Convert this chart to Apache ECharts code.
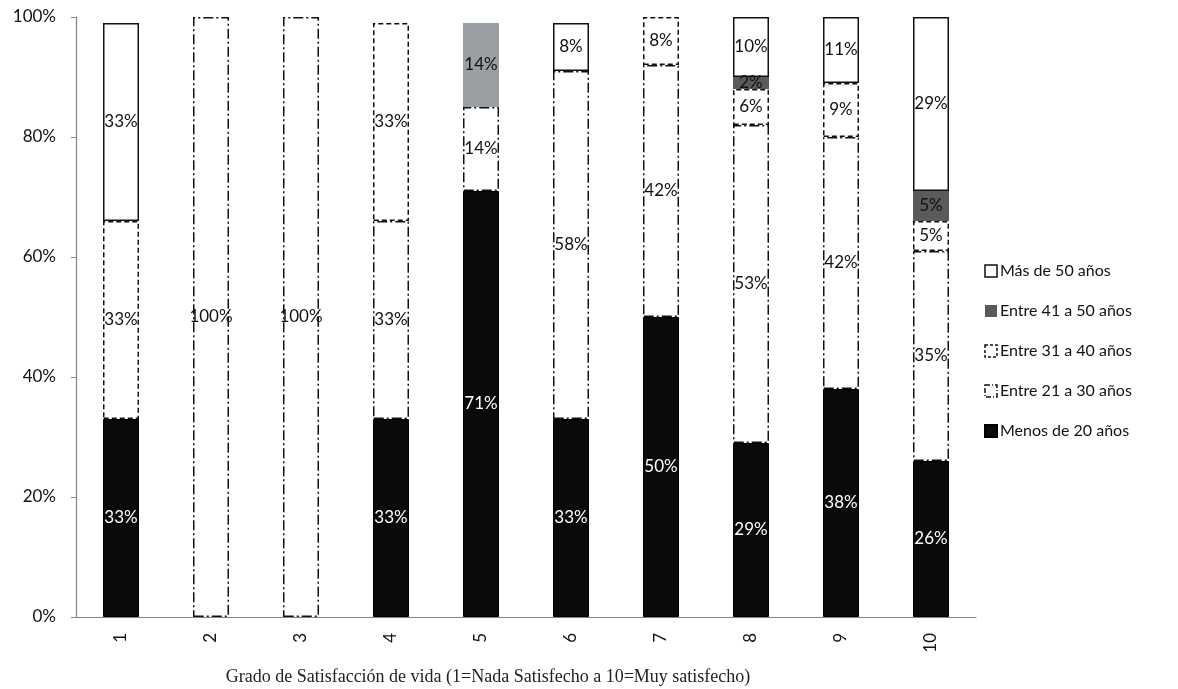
<!DOCTYPE html>
<html>
<head>
<meta charset="utf-8">
<script src="https://cdn.jsdelivr.net/npm/echarts@6/dist/echarts.min.js"></script>
<style>
  html, body { margin: 0; padding: 0; background: #fff; }
  #chart { width: 1178px; height: 689px; }
</style>
</head>
<body>
<div id="chart"></div>
<script>
// Satisfaction level categories (1 = Nada satisfecho, 10 = Muy satisfecho)
const categories = ['1', '2', '3', '4', '5', '6', '7', '8', '9', '10'];

// Percentage of respondents per age group in each satisfaction level
const menos20 = [33, null, null, 33, 71, 33, 50, 29, 38, 26];
const entre21a30 = [null, 100, 100, 33, 14, 58, 42, 53, 42, 35];
const entre31a40 = [33, null, null, 33, null, null, 8, 6, 9, 5];
const entre41a50 = [null, null, null, null, 14, null, null, 2, null, 5];
const mas50 = [33, null, null, null, null, 8, null, 10, 11, 29];

const yTicks = [0, 20, 40, 60, 80, 100];

const labelFont = 'Lato, "Noto Sans", sans-serif';

// Outline styles for each age group
const dashDot = [10, 3, 2, 3];
const dashed = [5, 3];

function pctLabel(color) {
  return {
    show: true,
    position: 'inside',
    color: color,
    fontFamily: labelFont,
    fontSize: 17,
    formatter: p => (p.value == null || p.value === 0) ? '' : p.value + '%'
  };
}

function series(name, data, itemStyle, labelColor) {
  return {
    name: name,
    type: 'bar',
    stack: 'total',
    barWidth: 36,
    data: data,
    itemStyle: itemStyle,
    label: pctLabel(labelColor),
    emphasis: { disabled: true }
  };
}

// The 41-50 segment in level 5 is printed in a lighter grey
const grey41a50 = entre41a50.map((v, i) =>
  v == null ? null : (i === 4 ? { value: v, itemStyle: { color: '#9b9ea2' } } : v)
);

const chart = echarts.init(document.getElementById('chart'));
chart.setOption({
  animation: false,
  backgroundColor: '#fff',
  grid: { left: 76, right: 202, top: 17, bottom: 72, outerBoundsMode: 'none', containLabel: false },
  legend: {
    orient: 'vertical',
    left: 979,
    top: 258,
    itemGap: 24,
    itemWidth: 12,
    itemHeight: 12,
    icon: 'rect',
    textStyle: { fontFamily: labelFont, fontSize: 16, color: '#111', padding: [0, 0, 0, -2] },
    data: [
      { name: 'Más de 50 años', itemStyle: { borderWidth: 1.5, borderColor: '#111' } },
      { name: 'Entre 41 a 50 años' },
      { name: 'Entre 31 a 40 años', itemStyle: { borderWidth: 1.5, borderColor: '#111', borderType: [3, 2] } },
      { name: 'Entre 21 a 30 años', itemStyle: { borderWidth: 1.5, borderColor: '#111', borderType: [5, 2, 1, 2] } },
      { name: 'Menos de 20 años' }
    ]
  },
  xAxis: {
    type: 'category',
    data: categories,
    name: 'Grado de Satisfacción de vida (1=Nada Satisfecho a 10=Muy satisfecho)',
    nameLocation: 'middle',
    nameGap: 51,
    nameTextStyle: {
      fontFamily: '"Liberation Serif", "DejaVu Serif", serif',
      fontSize: 18,
      color: '#222',
      padding: [0, 76, 0, 0]
    },
    axisLine: { lineStyle: { color: '#7f8590', width: 1.2 } },
    axisTick: { length: 6, lineStyle: { color: '#7f8590' } },
    axisLabel: { rotate: 90, margin: 16, fontFamily: labelFont, fontSize: 17, color: '#111' }
  },
  yAxis: {
    type: 'value',
    min: yTicks[0],
    max: yTicks[yTicks.length - 1],
    interval: yTicks[1] - yTicks[0],
    axisLine: { show: true, lineStyle: { color: '#7f8590', width: 1.2 } },
    axisTick: { show: true, length: 5, lineStyle: { color: '#7f8590' } },
    splitLine: { show: false },
    axisLabel: { formatter: '{value}%', margin: 20, fontFamily: labelFont, fontSize: 17, color: '#111' }
  },
  series: [
    series('Menos de 20 años', menos20,
      { color: '#0a0a0a', borderColor: '#000', borderWidth: 1 }, '#fff'),
    series('Entre 21 a 30 años', entre21a30,
      { color: '#fff', borderColor: '#111', borderWidth: 1.5, borderType: dashDot }, '#111'),
    series('Entre 31 a 40 años', entre31a40,
      { color: '#fff', borderColor: '#111', borderWidth: 1.5, borderType: dashed }, '#111'),
    series('Entre 41 a 50 años', grey41a50,
      { color: '#5a5a5a', borderColor: '#5a5a5a', borderWidth: 0 }, '#111'),
    series('Más de 50 años', mas50,
      { color: '#fff', borderColor: '#111', borderWidth: 1.5 }, '#111')
  ]
});
</script>
</body>
</html>
